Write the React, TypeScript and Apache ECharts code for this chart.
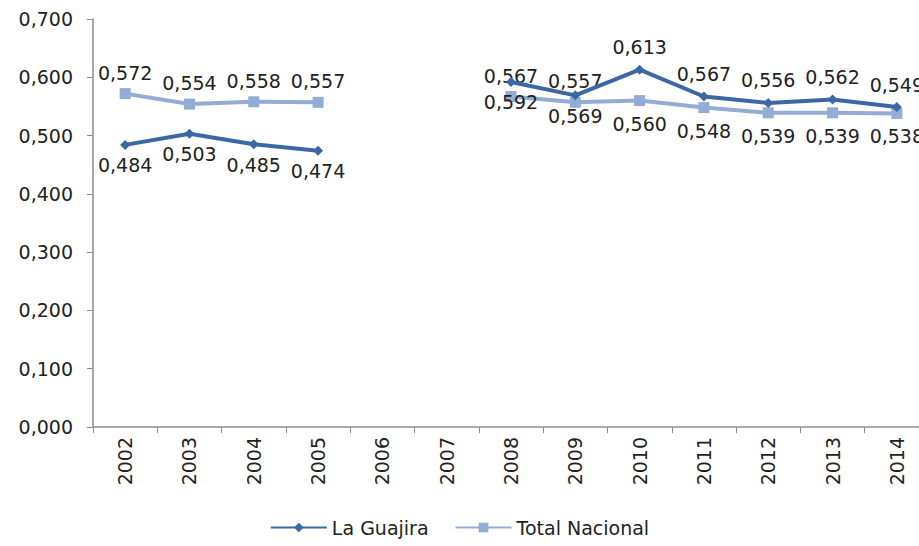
import React, { useEffect, useRef } from "react";
import * as echarts from "echarts";

const years = ["2002","2003","2004","2005","2006","2007","2008","2009","2010","2011","2012","2013","2014"];
const laGuajira: (number | null)[] = [0.484, 0.503, 0.485, 0.474, null, null, 0.592, 0.569, 0.613, 0.567, 0.556, 0.562, 0.549];
const totalNacional: (number | null)[] = [0.572, 0.554, 0.558, 0.557, null, null, 0.567, 0.557, 0.560, 0.548, 0.539, 0.539, 0.538];
const yTicks = [0, 0.1, 0.2, 0.3, 0.4, 0.5, 0.6, 0.7];

const fmt = (v: number) => v.toFixed(3).replace(".", ",");

export default function App() {
  const ref = useRef<HTMLDivElement>(null);
  useEffect(() => {
    if (!ref.current) return;
    const chart = echarts.init(ref.current, undefined, { renderer: "svg" });
    const dark = "#3b68a5";
    const light = "#93acd6";
    const font = "'DejaVu Sans', sans-serif";
    const fs = 19;
    const swapIndex = 8; // from 2010 on, label sides swap
    const lgData = laGuajira.map((v, i) => ({
      value: v,
      label: { position: i >= swapIndex ? "top" : "bottom", distance: i >= swapIndex ? 8 : 6 },
    }));
    const tnData = totalNacional.map((v, i) => ({
      value: v,
      label: { position: i >= swapIndex ? "bottom" : "top", distance: i >= swapIndex ? 8 : 6 },
    }));
    chart.setOption({
      animation: false,
      grid: { left: 93, top: 19, width: 836, height: 408, containLabel: false, outerBoundsMode: "none" },
      legend: {
        bottom: 4,
        left: "center",
        itemWidth: 56,
        itemHeight: 12,
        itemGap: 26,
        textStyle: { fontFamily: font, fontSize: fs, color: "#222" },
        data: ["La Guajira", "Total Nacional"],
      },
      xAxis: {
        type: "category",
        data: years,
        boundaryGap: true,
        axisLine: { lineStyle: { color: "#8c8c8c", width: 1.5 } },
        axisTick: { show: true, length: 6, alignWithLabel: false, lineStyle: { color: "#8c8c8c" } },
        axisLabel: { rotate: 90, fontFamily: font, fontSize: fs, color: "#222", margin: 10 },
        splitLine: { show: false },
      },
      yAxis: {
        type: "value",
        min: yTicks[0],
        max: yTicks[yTicks.length - 1],
        interval: 0.1,
        axisLine: { show: true, lineStyle: { color: "#8c8c8c", width: 1.5 } },
        axisTick: { show: true, length: 6, lineStyle: { color: "#8c8c8c" } },
        axisLabel: { fontFamily: font, fontSize: fs, color: "#222", margin: 20, formatter: (v: number) => fmt(v) },
        splitLine: { show: false },
      },
      series: [
        {
          name: "La Guajira",
          type: "line",
          data: lgData,
          connectNulls: false,
          symbol: "diamond",
          symbolSize: 10,
          lineStyle: { color: dark, width: 4 },
          itemStyle: { color: dark },
          label: {
            show: true,
            fontFamily: font,
            fontSize: fs,
            color: "#222",
            formatter: (p: any) => fmt(p.value),
          },
          z: 3,
        },
        {
          name: "Total Nacional",
          type: "line",
          data: tnData,
          connectNulls: false,
          symbol: "rect",
          symbolSize: 11,
          lineStyle: { color: light, width: 4 },
          itemStyle: { color: light },
          label: {
            show: true,
            fontFamily: font,
            fontSize: fs,
            color: "#222",
            formatter: (p: any) => fmt(p.value),
          },
          z: 2,
        },
      ],
    });
    return () => chart.dispose();
  }, []);
  return (
    <div
      ref={ref}
      style={{ position: "fixed", left: 0, top: 0, width: 919, height: 546, background: "#fff" }}
    />
  );
}
